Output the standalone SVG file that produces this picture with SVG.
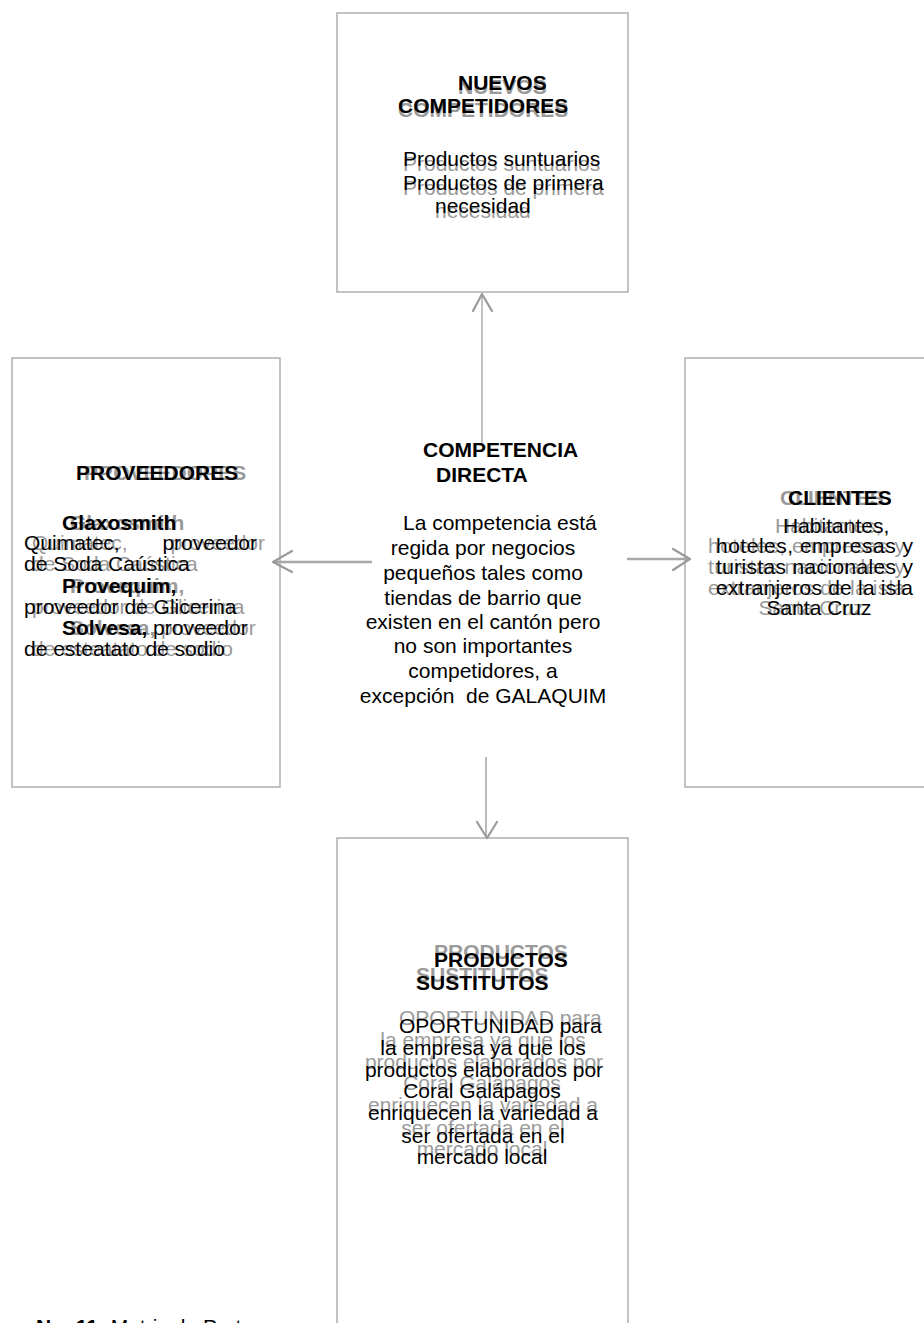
<svg xmlns="http://www.w3.org/2000/svg" width="924" height="1323" viewBox="0 0 924 1323">
<style>
text{font-family:"Liberation Sans",Arial,sans-serif;font-size:21px;fill:#000}
.b{font-weight:bold}
.sh{fill:#9a9a9a}
.box{fill:#fff;stroke:#b4b4b4;stroke-width:1.6}
.ln{stroke:#a8a8a8;stroke-width:2;fill:none}
.hd{stroke:#9a9a9a;stroke-width:2.2;fill:none;stroke-linecap:round;stroke-linejoin:round}
.m{text-anchor:middle}
</style>
<rect width="924" height="1323" fill="#fff"/>

<g id="node-nuevos">
<rect class="box" x="337" y="13" width="291" height="279"/>
<g class="sh" transform="translate(0,4)">
<text class="b sh" x="458" y="90">NUEVOS</text>
<text class="b sh" x="398" y="113">COMPETIDORES</text>
</g>
<g transform="translate(0,5)">
<text class="sh" x="403" y="166">Productos suntuarios</text>
<text class="sh" x="403" y="190">Productos de primera</text>
<text class="sh" x="435" y="213">necesidad</text>
</g>
<text class="b" x="458" y="90">NUEVOS</text>
<text class="b" x="398" y="113">COMPETIDORES</text>
<text x="403" y="166">Productos suntuarios</text>
<text x="403" y="190">Productos de primera</text>
<text x="435" y="213">necesidad</text>
</g>

<g id="node-proveedores">
<rect class="box" x="12" y="358" width="268" height="429"/>
<g transform="translate(8,0)">
<text class="b sh" x="76" y="480">PROVEEDORES</text>
<text class="b sh" x="62" y="530">Glaxosmith</text>
<text class="sh" x="24" y="550">Quimatec,</text>
<text class="sh" x="257" y="550" style="text-anchor:end">proveedor</text>
<text class="sh" x="24" y="571">de Soda Caústica</text>
<text class="b sh" x="62" y="593">Provequim,</text>
<text class="sh" x="24" y="614">proveedor de Glicerina</text>
<text class="sh" x="62" y="635"><tspan class="b sh">Solvesa,</tspan> proveedor</text>
<text class="sh" x="24" y="656">de esteatato de sodio</text>
</g>
<text class="b" x="76" y="480">PROVEEDORES</text>
<text class="b" x="62" y="530">Glaxosmith</text>
<text x="24" y="550">Quimatec,</text>
<text x="257" y="550" style="text-anchor:end">proveedor</text>
<text x="24" y="571">de Soda Caústica</text>
<text class="b" x="62" y="593">Provequim,</text>
<text x="24" y="614">proveedor de Glicerina</text>
<text x="62" y="635"><tspan class="b">Solvesa,</tspan> proveedor</text>
<text x="24" y="656">de esteatato de sodio</text>
</g>

<g id="node-clientes">
<rect class="box" x="685" y="358" width="260" height="429"/>
<g transform="translate(-8,0)">
<text class="b sh" x="788" y="505">CLIENTES</text>
<text class="sh" x="783" y="533">Habitantes,</text>
<text class="sh" x="716" y="553" textLength="197" lengthAdjust="spacing">hoteles, empresas y</text>
<text class="sh" x="716" y="574" textLength="197" lengthAdjust="spacing">turistas nacionales y</text>
<text class="sh" x="716" y="595" textLength="197" lengthAdjust="spacing">extranjeros de la isla</text>
<text class="sh m" x="819" y="615">Santa Cruz</text>
</g>
<text class="b" x="788" y="505">CLIENTES</text>
<text x="783" y="533">Habitantes,</text>
<text x="716" y="553" textLength="197" lengthAdjust="spacing">hoteles, empresas y</text>
<text x="716" y="574" textLength="197" lengthAdjust="spacing">turistas nacionales y</text>
<text x="716" y="595" textLength="197" lengthAdjust="spacing">extranjeros de la isla</text>
<text class="m" x="819" y="615">Santa Cruz</text>
</g>

<g id="node-sustitutos">
<rect class="box" x="337" y="838" width="291" height="520"/>
<g transform="translate(0,-8)">
<text class="b sh" x="434" y="967">PRODUCTOS</text>
<text class="b sh" x="416" y="990">SUSTITUTOS</text>
<text class="sh" x="399" y="1033">OPORTUNIDAD para</text>
<text class="sh m" x="483" y="1055">la empresa ya que los</text>
<text class="sh m" x="484" y="1077">productos elaborados por</text>
<text class="sh m" x="482" y="1098">Coral Galápagos</text>
<text class="sh m" x="483" y="1120">enriquecen la variedad a</text>
<text class="sh m" x="483" y="1143">ser ofertada en el</text>
<text class="sh m" x="482" y="1164">mercado local</text>
</g>
<text class="b" x="434" y="967">PRODUCTOS</text>
<text class="b" x="416" y="990">SUSTITUTOS</text>
<text x="399" y="1033">OPORTUNIDAD para</text>
<text class="m" x="483" y="1055">la empresa ya que los</text>
<text class="m" x="484" y="1077">productos elaborados por</text>
<text class="m" x="482" y="1098">Coral Galápagos</text>
<text class="m" x="483" y="1120">enriquecen la variedad a</text>
<text class="m" x="483" y="1143">ser ofertada en el</text>
<text class="m" x="482" y="1164">mercado local</text>
</g>

<g id="connectors">
<line class="ln" x1="482" y1="294" x2="482" y2="443" style="stroke-width:1.4"/>
<polyline class="hd" points="473,311 482,294 492,311"/>
<line class="ln" x1="275" y1="562" x2="372" y2="562" style="stroke-width:2.6"/>
<polyline class="hd" points="292,551 273,562 292,572"/>
<line class="ln" x1="627" y1="559" x2="688" y2="559" style="stroke-width:2.6"/>
<polyline class="hd" points="673,549 690,559 673,570"/>
<line class="ln" x1="486" y1="757" x2="486" y2="836" style="stroke-width:1.6"/>
<polyline class="hd" points="477,822 487,838 497,822"/>
</g>

<g id="node-competencia">
<text class="b" x="423" y="457">COMPETENCIA</text>
<text class="b" x="436" y="482">DIRECTA</text>
<text x="403" y="530">La competencia está</text>
<text class="m" x="483" y="555">regida por negocios</text>
<text class="m" x="483" y="580">pequeños tales como</text>
<text class="m" x="483" y="605">tiendas de barrio que</text>
<text class="m" x="483" y="629">existen en el cantón pero</text>
<text class="m" x="483" y="653">no son importantes</text>
<text class="m" x="483" y="678">competidores, a</text>
<text class="m" x="483" y="703" xml:space="preserve">excepción  de GALAQUIM</text>
</g>

<g id="caption">
<text x="36" y="1334"><tspan class="b">No. 11:</tspan> Matriz de Porter</text>
</g>
</svg>
